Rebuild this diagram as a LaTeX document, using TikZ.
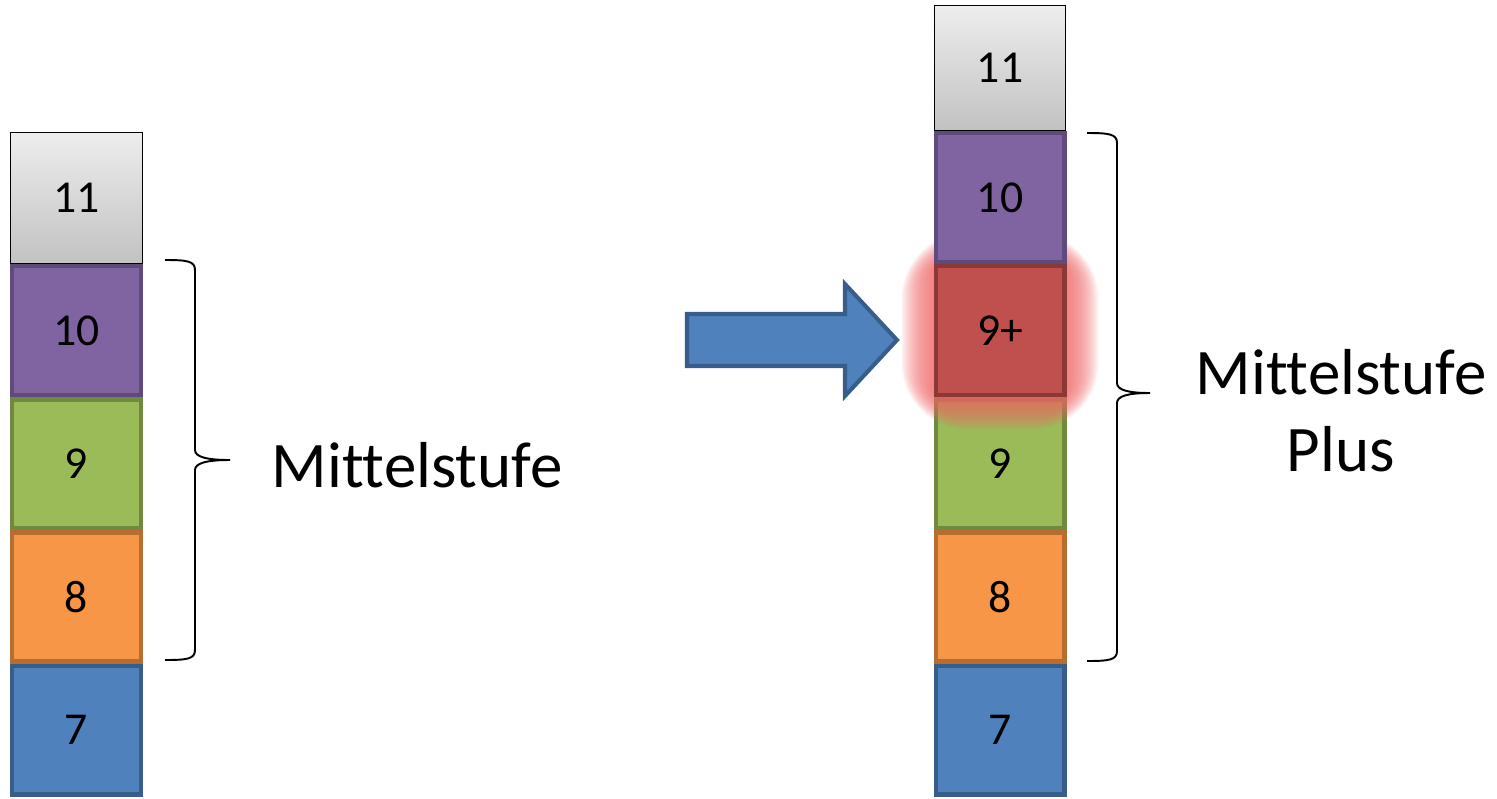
\documentclass[tikz,border=0pt]{standalone}
\usepackage{fontspec}
\setmainfont{Carlito}[Ligatures=NoCommon]
\usetikzlibrary{positioning}

\definecolor{graulinie}{HTML}{000000}
\definecolor{lilafill}{HTML}{8064A2}
\definecolor{lilarand}{HTML}{5E4A7B}
\definecolor{rotfill}{HTML}{C0504D}
\definecolor{rotrand}{HTML}{8C3836}
\definecolor{gruenfill}{HTML}{9BBB59}
\definecolor{gruenrand}{HTML}{71893F}
\definecolor{orangefill}{HTML}{F79646}
\definecolor{orangerand}{HTML}{B66D31}
\definecolor{blaufill}{HTML}{4F81BD}
\definecolor{blaurand}{HTML}{385D8A}
\definecolor{glut}{RGB}{240,105,105}

\tikzset{
    stufe/.style={rectangle,inner sep=0pt,minimum width=2.58cm,minimum height=2.58cm,line width=2.3pt,font=\fontsize{26}{30}\selectfont},
    lilabox/.style={stufe,fill=lilafill,draw=lilarand},
    rotbox/.style={stufe,fill=rotfill,draw=rotrand},
    gruenbox/.style={stufe,fill=gruenfill,draw=gruenrand},
    orangebox/.style={stufe,fill=orangefill,draw=orangerand},
    blaubox/.style={stufe,fill=blaufill,draw=blaurand},
    graubox/.style={stufe,line width=0.8pt,draw=graulinie,minimum width=2.63cm,top color=gray!14,bottom color=gray!48},
    klammer/.style={line width=1.1pt,black},
    pfeil/.style={line width=2.3pt,draw=blaurand,fill=blaufill,line join=miter},
    stufentext/.style={font=\fontsize{37}{44}\selectfont,align=center}
}

\begin{document}
\begin{tikzpicture}[x=0.02cm,y=-0.02cm]
\useasboundingbox (0,0) rectangle (1497,798);

% linke Saeule
\node[blaubox] (L7) at (76.5,730) {7};
\node[orangebox,above=0pt of L7] (L8) {8};
\node[gruenbox,above=0pt of L8] (L9) {9};
\node[lilabox,above=0pt of L9] (L10) {10};
\node[graubox,minimum height=2.62cm,above=0pt of L10] (L11) {11};

% rechte Saeule
\node[blaubox] (R7) at (1000,730) {7};
\node[orangebox,above=0pt of R7] (R8) {8};
\node[gruenbox,above=0pt of R8] (R9) {9};
% Leuchten um 9+
\foreach \d in {32,30.5,...,0}
    \fill[glut,opacity=0.075,rounded corners=\d+6]
        ([shift={(-66.5-\d,-133-\d)}]R9.north) rectangle ([shift={(66.5+\d,\d)}]R9.north);
\node[rotbox,above=0pt of R9] (R9p) {9+};
\node[lilabox,above=0pt of R9p] (R10) {10};
\node[graubox,minimum height=2.5cm,above=0pt of R10] (R11) {11};

% Klammern
\draw[klammer] (165,260) .. controls (187,260) and (195,261) .. (195,270) -- (195,450)
    .. controls (195,457) and (207,460) .. (230,460)
    .. controls (207,460) and (195,463) .. (195,470) -- (195,650)
    .. controls (195,659) and (187,660) .. (165,660);
\draw[klammer] (1087,133) .. controls (1109,133) and (1117,134) .. (1117,143) -- (1117,383)
    .. controls (1117,390) and (1128,393) .. (1150,393)
    .. controls (1128,393) and (1117,396) .. (1117,403) -- (1117,651)
    .. controls (1117,660) and (1109,661) .. (1087,661);

\node[stufentext] (mitte) at (417,465) {Mittelstufe};
\node[stufentext] (plus) at (1341,411) {Mittelstufe\\Plus};

% Blockpfeil
\draw[pfeil] (687,314) -- (845,314) -- (845,284) -- (897,340) -- (845,396) -- (845,366) -- (687,366) -- cycle;

\end{tikzpicture}
\end{document}
